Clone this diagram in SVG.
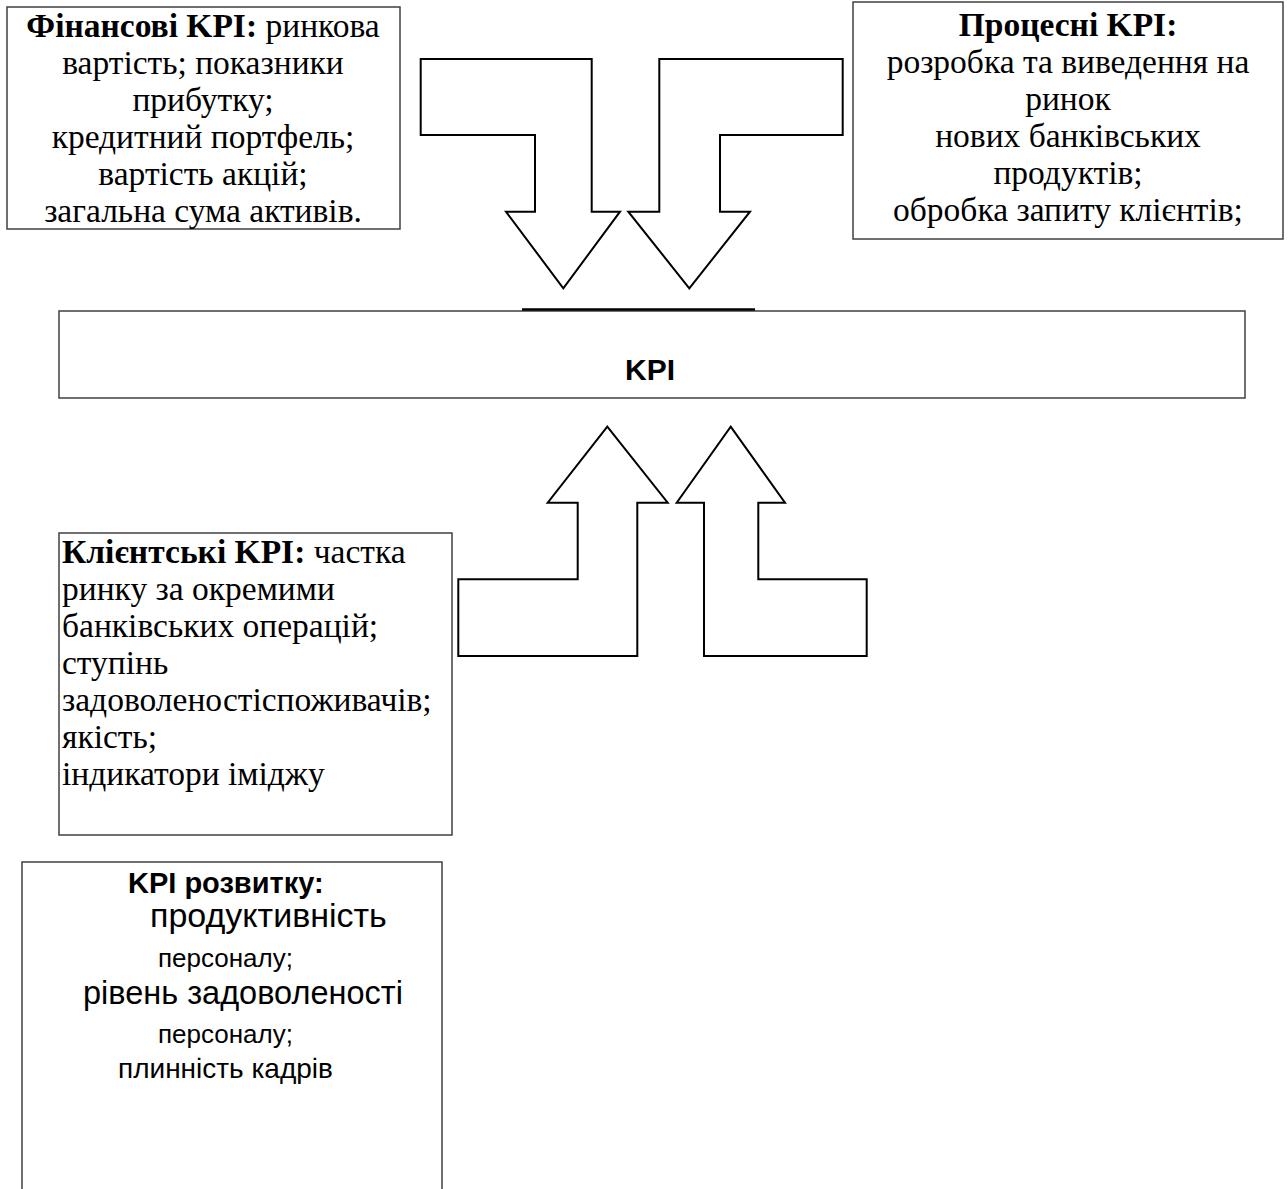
<svg xmlns="http://www.w3.org/2000/svg" width="1288" height="1189" viewBox="0 0 1288 1189">
<style>
.box{fill:#fff;stroke:#404040;stroke-width:1.5}
.arrow{fill:#fff;stroke:#000;stroke-width:2;stroke-linejoin:miter}
.serif{font-family:"Liberation Serif","Times New Roman",serif;font-size:33.5px;fill:#000}
.sans{font-family:"Liberation Sans",Arial,sans-serif;fill:#000}
.b{font-weight:bold}
</style>
<rect width="1288" height="1189" fill="#fff"/>
<g id="connectors">
<polygon class="arrow" points="420.7,59 591.7,59 591.7,211.7 620,211.7 563.3,288.3 506,211.7 535,211.7 535,135 420.7,135"/>
<polygon class="arrow" points="659.3,59 842.7,59 842.7,135 720,135 720,211.7 750,211.7 689.3,288.3 628.3,211.7 659.3,211.7"/>
<polygon class="arrow" points="607.3,426.7 667.7,502.7 637.3,502.7 637.3,656 458.3,656 458.3,579.3 577.7,579.3 577.7,502.7 547.7,502.7"/>
<polygon class="arrow" points="730.7,426.7 785,502.7 758.3,502.7 758.3,579.3 866.7,579.3 866.7,656 704,656 704,502.7 676.7,502.7"/>
</g>
<g id="financial">
<rect class="box" x="7" y="7" width="393" height="222"/>
<text class="serif" text-anchor="middle"><tspan x="203" y="37"><tspan class="b">Фінансові KPI:</tspan> ринкова</tspan><tspan x="203" y="74">вартість; показники</tspan><tspan x="203" y="111">прибутку;</tspan><tspan x="203" y="148">кредитний портфель;</tspan><tspan x="203" y="185">вартість акцій;</tspan><tspan x="203" y="222">загальна сума активів.</tspan></text>
</g>
<g id="process">
<rect class="box" x="853" y="2" width="430" height="237"/>
<text class="serif" text-anchor="middle"><tspan class="b" x="1068" y="36">Процесні KPI:</tspan><tspan x="1068" y="73">розробка та виведення на</tspan><tspan x="1068" y="110">ринок</tspan><tspan x="1068" y="147">нових банківських</tspan><tspan x="1068" y="184">продуктів;</tspan><tspan x="1068" y="221">обробка запиту клієнтів;</tspan></text>
</g>
<g id="kpi">
<rect class="box" x="59" y="311" width="1186" height="87"/>
<line x1="522" y1="309.5" x2="755" y2="309.5" stroke="#000" stroke-width="2.5"/>
<text class="sans b" x="650" y="380" font-size="30" text-anchor="middle">KPI</text>
</g>
<g id="client">
<rect class="box" x="59" y="533" width="393" height="302"/>
<text class="serif"><tspan x="62" y="563"><tspan class="b">Клієнтські KPI:</tspan> частка</tspan><tspan x="62" y="600">ринку за окремими</tspan><tspan x="62" y="637">банківських операцій;</tspan><tspan x="62" y="674">ступінь</tspan><tspan x="62" y="711">задоволеностіспоживачів;</tspan><tspan x="62" y="748">якість;</tspan><tspan x="62" y="785">індикатори іміджу</tspan></text>
</g>
<g id="development">
<rect class="box" x="22" y="862" width="420" height="340"/>
<text class="sans b" x="128" y="893" font-size="29">KPI розвитку:</text>
<text class="sans" x="150" y="927" font-size="34">продуктивність</text>
<text class="sans" x="158" y="967" font-size="26">персоналу;</text>
<text class="sans" x="83" y="1004" font-size="32.5">рівень задоволеності</text>
<text class="sans" x="158" y="1043" font-size="26">персоналу;</text>
<text class="sans" x="118" y="1078" font-size="28">плинність кадрів</text>
</g>
</svg>
